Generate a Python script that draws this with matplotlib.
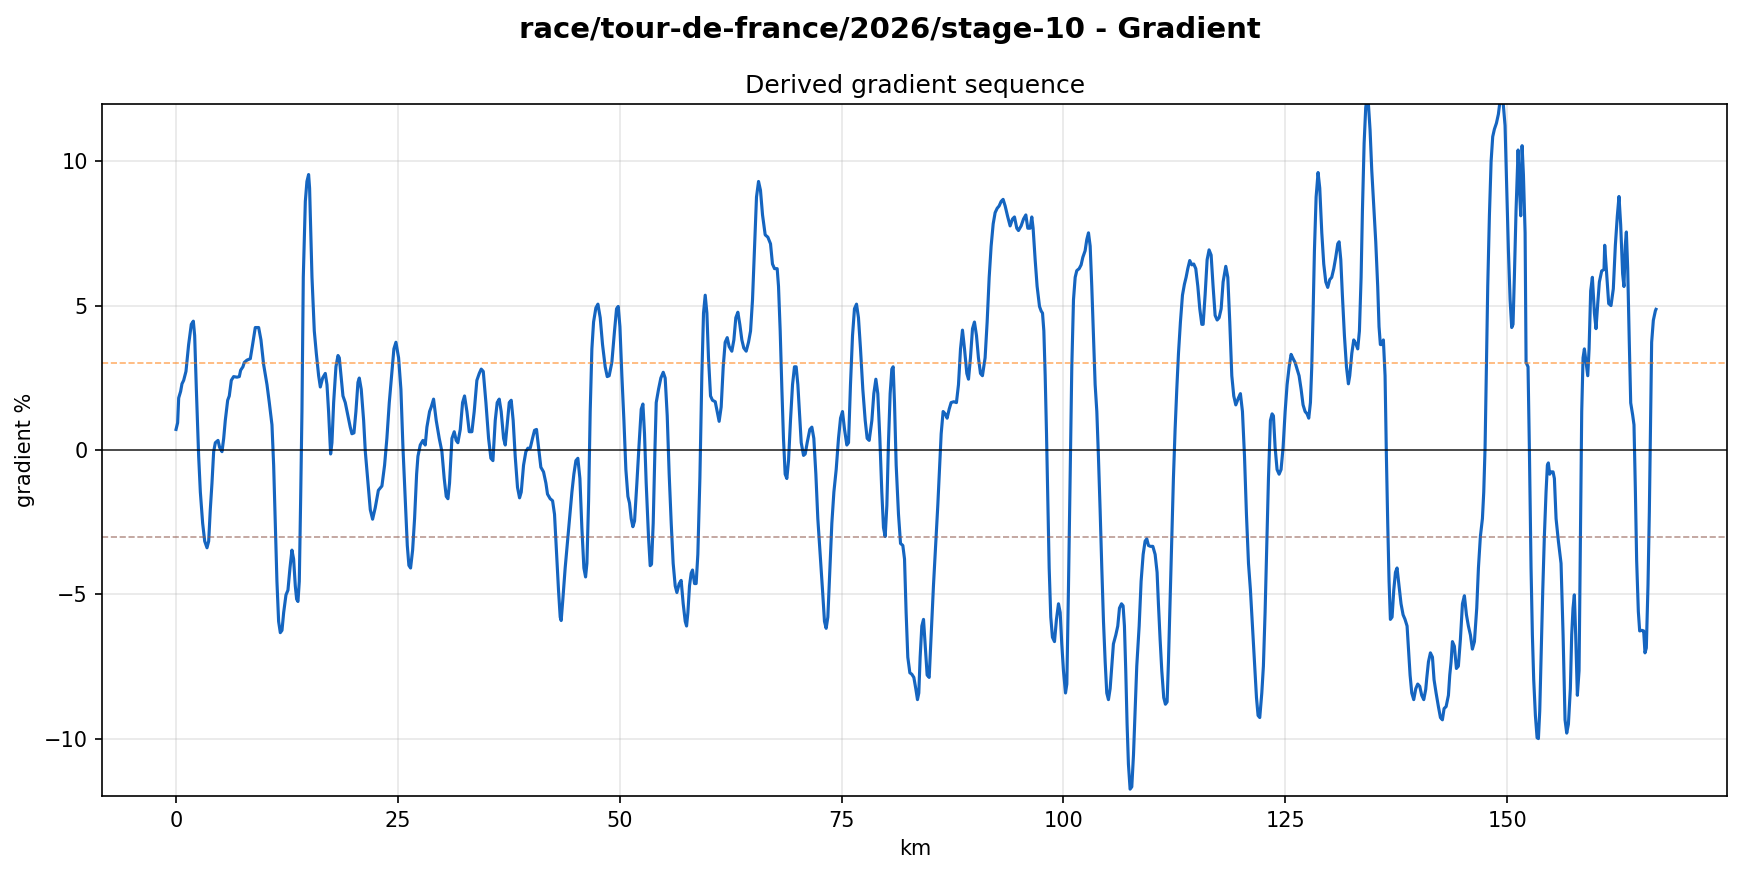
import matplotlib
matplotlib.use("Agg")
from matplotlib import pyplot as plt

km = [
    0.0, 0.18, 0.3, 0.52, 0.67, 0.86, 1.12, 1.42, 1.72, 1.95, 2.1, 2.29, 2.55, 2.74, 3.0, 3.23, 3.49, 3.68, 3.86, 4.05,
    4.24, 4.43, 4.73, 4.91, 5.18, 5.37, 5.55, 5.82, 6.0, 6.23, 6.49, 6.87, 7.13, 7.28, 7.54, 7.69, 7.99, 8.37, 8.63, 8.93,
    9.31, 9.57, 9.87, 10.25, 10.51, 10.81, 11.0, 11.19, 11.37, 11.56, 11.75, 11.94, 12.13, 12.39, 12.61, 12.84, 13.06, 13.25, 13.44, 13.59,
    13.74, 13.89, 14.04, 14.19, 14.34, 14.57, 14.75, 14.94, 15.05, 15.32, 15.58, 15.81, 16.07, 16.26, 16.52, 16.82, 17.01, 17.19, 17.42, 17.57,
    17.76, 18.02, 18.25, 18.4, 18.59, 18.81, 19.07, 19.37, 19.63, 19.82, 20.05, 20.27, 20.5, 20.65, 20.87, 21.14, 21.33, 21.63, 21.89, 22.15,
    22.45, 22.8, 23.2, 23.5, 23.76, 24.03, 24.33, 24.55, 24.78, 25.08, 25.34, 25.57, 25.83, 26.06, 26.24, 26.43, 26.66, 26.88, 27.11, 27.26,
    27.52, 27.82, 28.08, 28.27, 28.57, 28.76, 29.02, 29.32, 29.66, 29.96, 30.22, 30.45, 30.64, 30.82, 31.09, 31.35, 31.57, 31.76, 32.03, 32.29,
    32.51, 32.78, 33.04, 33.34, 33.6, 33.9, 34.17, 34.39, 34.62, 34.92, 35.22, 35.48, 35.71, 35.97, 36.19, 36.42, 36.64, 36.91, 37.1, 37.32,
    37.55, 37.77, 37.99, 38.22, 38.48, 38.71, 38.9, 39.16, 39.42, 39.65, 39.91, 40.17, 40.4, 40.62, 40.85, 41.11, 41.41, 41.68, 41.86, 42.16,
    42.43, 42.65, 42.92, 43.1, 43.29, 43.4, 43.59, 43.85, 44.12, 44.38, 44.61, 44.83, 45.06, 45.28, 45.51, 45.73, 45.96, 46.15, 46.3, 46.49,
    46.67, 46.86, 47.05, 47.31, 47.54, 47.8, 48.06, 48.36, 48.59, 48.81, 49.11, 49.41, 49.64, 49.83, 50.02, 50.24, 50.47, 50.69, 50.92, 51.1,
    51.29, 51.48, 51.67, 51.93, 52.19, 52.42, 52.61, 52.79, 52.98, 53.24, 53.43, 53.58, 53.77, 53.96, 54.11, 54.37, 54.63, 54.9, 55.12, 55.35,
    55.57, 55.8, 56.02, 56.25, 56.44, 56.7, 56.92, 57.15, 57.38, 57.53, 57.68, 57.86, 58.05, 58.2, 58.43, 58.61, 58.8, 59.03, 59.25, 59.44,
    59.63, 59.82, 60.0, 60.23, 60.45, 60.76, 60.98, 61.2, 61.43, 61.66, 61.88, 62.11, 62.33, 62.63, 62.86, 63.08, 63.31, 63.53, 63.76, 63.98,
    64.25, 64.51, 64.74, 64.96, 65.19, 65.41, 65.64, 65.86, 66.09, 66.39, 66.69, 66.99, 67.21, 67.44, 67.74, 67.89, 68.08, 68.27, 68.45, 68.64,
    68.83, 69.02, 69.24, 69.47, 69.69, 69.88, 70.07, 70.22, 70.45, 70.71, 70.9, 71.12, 71.42, 71.65, 71.87, 72.1, 72.32, 72.59, 72.85, 73.07,
    73.26, 73.45, 73.68, 73.9, 74.13, 74.39, 74.65, 74.88, 75.1, 75.33, 75.59, 75.78, 76.0, 76.23, 76.45, 76.68, 76.9, 77.13, 77.39, 77.66,
    77.88, 78.11, 78.41, 78.63, 78.86, 79.08, 79.31, 79.53, 79.72, 79.91, 80.1, 80.28, 80.47, 80.66, 80.81, 80.96, 81.15, 81.41, 81.64, 81.9,
    82.09, 82.27, 82.46, 82.69, 82.91, 83.14, 83.36, 83.55, 83.7, 83.85, 84.04, 84.23, 84.41, 84.64, 84.87, 85.09, 85.35, 85.62, 85.84, 86.03,
    86.22, 86.44, 86.67, 86.89, 87.12, 87.34, 87.64, 87.94, 88.17, 88.4, 88.62, 88.85, 89.11, 89.3, 89.52, 89.75, 89.97, 90.2, 90.42, 90.65,
    90.87, 91.17, 91.4, 91.63, 91.85, 92.08, 92.3, 92.53, 92.75, 92.98, 93.2, 93.43, 93.7, 93.99, 94.26, 94.48, 94.74, 94.93, 95.23, 95.5,
    95.76, 95.98, 96.25, 96.43, 96.58, 96.81, 97.03, 97.3, 97.49, 97.64, 97.79, 97.94, 98.09, 98.24, 98.39, 98.57, 98.76, 98.99, 99.21, 99.44,
    99.63, 99.81, 100.0, 100.23, 100.38, 100.56, 100.75, 100.94, 101.13, 101.32, 101.5, 101.77, 101.99, 102.18, 102.44, 102.63, 102.82, 103.01, 103.19, 103.38,
    103.57, 103.76, 103.94, 104.13, 104.32, 104.51, 104.7, 104.88, 105.07, 105.26, 105.45, 105.63, 105.9, 106.12, 106.31, 106.54, 106.72, 106.87, 107.02, 107.17,
    107.32, 107.51, 107.7, 107.89, 108.07, 108.26, 108.53, 108.75, 108.98, 109.2, 109.39, 109.58, 109.8, 110.07, 110.33, 110.55, 110.7, 110.89, 111.08, 111.3,
    111.49, 111.68, 111.83, 112.02, 112.21, 112.39, 112.58, 112.77, 112.96, 113.18, 113.41, 113.63, 113.82, 114.01, 114.23, 114.46, 114.68, 114.91, 115.14, 115.36,
    115.59, 115.74, 115.96, 116.19, 116.41, 116.64, 116.86, 117.09, 117.32, 117.54, 117.77, 117.99, 118.29, 118.52, 118.74, 118.97, 119.19, 119.42, 119.72, 119.94,
    120.17, 120.4, 120.62, 120.85, 121.07, 121.3, 121.52, 121.75, 121.93, 122.12, 122.35, 122.53, 122.72, 122.91, 123.1, 123.32, 123.51, 123.66, 123.85, 124.07,
    124.3, 124.52, 124.75, 124.98, 125.2, 125.43, 125.65, 125.88, 126.1, 126.33, 126.55, 126.78, 127.0, 127.23, 127.45, 127.64, 127.83, 127.98, 128.13, 128.28,
    128.47, 128.69, 128.88, 129.11, 129.33, 129.56, 129.78, 130.01, 130.23, 130.46, 130.68, 130.91, 131.06, 131.25, 131.43, 131.66, 131.89, 132.11, 132.26, 132.49,
    132.71, 132.94, 133.16, 133.35, 133.54, 133.69, 133.88, 134.06, 134.21, 134.36, 134.55, 134.74, 134.96, 135.19, 135.41, 135.56, 135.71, 135.86, 136.05, 136.24,
    136.39, 136.54, 136.69, 136.84, 137.03, 137.22, 137.41, 137.59, 137.82, 138.04, 138.27, 138.49, 138.72, 138.87, 139.06, 139.25, 139.47, 139.7, 139.92, 140.15,
    140.37, 140.6, 140.82, 140.94, 141.13, 141.35, 141.58, 141.76, 141.99, 142.25, 142.48, 142.7, 142.89, 143.12, 143.38, 143.53, 143.68, 143.83, 144.05, 144.28,
    144.5, 144.73, 144.96, 145.18, 145.41, 145.63, 145.86, 146.08, 146.31, 146.57, 146.76, 146.98, 147.21, 147.36, 147.51, 147.66, 147.81, 148.0, 148.19, 148.37,
    148.56, 148.79, 149.01, 149.2, 149.5, 149.76, 149.95, 150.14, 150.33, 150.51, 150.66, 150.81, 151.0, 151.23, 151.38, 151.53, 151.68, 151.83, 152.02, 152.13,
    152.35, 152.5, 152.69, 152.84, 152.99, 153.18, 153.37, 153.52, 153.67, 153.82, 154.01, 154.19, 154.38, 154.53, 154.64, 154.79, 154.94, 155.17, 155.32, 155.51,
    155.77, 156.07, 156.3, 156.52, 156.71, 156.9, 157.12, 157.27, 157.42, 157.57, 157.72, 157.91, 158.1, 158.25, 158.4, 158.55, 158.7, 158.89, 159.08, 159.23,
    159.41, 159.6, 159.83, 160.01, 160.2, 160.39, 160.65, 160.91, 160.99, 161.21, 161.44, 161.7, 161.96, 162.19, 162.41, 162.6, 162.79, 163.01, 163.16, 163.31,
    163.43, 163.58, 163.76, 163.92, 164.14, 164.29, 164.44, 164.59, 164.78, 164.93, 165.19, 165.38, 165.53, 165.68, 165.87, 166.02, 166.17, 166.28, 166.47, 166.7,
    166.77,
]

gradiente = [
    0.71, 0.94, 1.8, 2.03, 2.29, 2.41, 2.72, 3.65, 4.35, 4.46, 3.96, 2.1, -0.22, -1.46, -2.54, -3.16, -3.39, -3.16, -2.07, -1.15,
    -0.06, 0.25, 0.33, 0.09, -0.06, 0.40, 1.02, 1.72, 1.87, 2.41, 2.54, 2.52, 2.54, 2.76, 2.88, 3.03, 3.11, 3.16, 3.65, 4.24,
    4.24, 3.81, 2.96, 2.26, 1.64, 0.87, -0.53, -2.54, -4.55, -5.94, -6.33, -6.25, -5.63, -5.02, -4.86, -4.09, -3.47, -3.78, -4.71, -5.17,
    -5.25, -4.55, -1.76, 1.33, 5.98, 8.61, 9.30, 9.54, 9.07, 5.98, 4.12, 3.34, 2.57, 2.18, 2.49, 2.65, 2.26, 1.33, -0.14, 0.25,
    1.64, 2.88, 3.27, 3.19, 2.57, 1.87, 1.64, 1.18, 0.79, 0.56, 0.59, 1.33, 2.34, 2.49, 2.1, 1.02, -0.06, -1.15, -2.07, -2.4,
    -2.0, -1.4, -1.25, -0.53, 0.40, 1.64, 2.72, 3.5, 3.73, 3.19, 2.1, 0.09, -1.76, -3.31, -4.0, -4.09, -3.47, -2.38, -0.84, -0.22,
    0.17, 0.33, 0.17, 0.79, 1.33, 1.49, 1.76, 1.02, 0.40, -0.06, -0.99, -1.61, -1.69, -1.15, 0.40, 0.63, 0.33, 0.25, 0.71, 1.64,
    1.87, 1.33, 0.63, 0.63, 1.33, 2.41, 2.65, 2.8, 2.72, 1.64, 0.40, -0.29, -0.37, 1.02, 1.64, 1.76, 1.33, 0.40, 0.17, 0.87,
    1.64, 1.72, 1.02, -0.22, -1.30, -1.66, -1.46, -0.53, -0.06, 0.06, 0.06, 0.40, 0.68, 0.71, 0.09, -0.60, -0.76, -1.15, -1.53, -1.69,
    -1.76, -2.23, -3.78, -4.86, -5.79, -5.91, -5.17, -4.09, -3.16, -2.23, -1.46, -0.84, -0.37, -0.29, -0.99, -2.69, -4.09, -4.4, -3.93, -1.76,
    1.33, 3.5, 4.43, 4.92, 5.05, 4.58, 3.65, 2.88, 2.54, 2.57, 3.03, 4.12, 4.89, 4.97, 4.27, 2.57, 1.02, -0.68, -1.61, -1.84,
    -2.38, -2.66, -2.46, -1.15, 0.25, 1.41, 1.59, 0.56, -1.15, -3.0, -4.01, -3.96, -2.54, -0.06, 1.64, 2.1, 2.49, 2.69, 2.49, 1.18,
    -0.84, -2.54, -3.93, -4.71, -4.94, -4.63, -4.52, -5.33, -5.94, -6.1, -5.63, -4.71, -4.27, -4.16, -4.63, -4.63, -3.62, -0.99, 2.57, 4.74,
    5.36, 4.74, 3.19, 1.87, 1.72, 1.67, 1.33, 0.99, 1.49, 2.88, 3.73, 3.89, 3.58, 3.42, 3.81, 4.58, 4.77, 4.35, 3.81, 3.53,
    3.42, 3.73, 4.12, 5.2, 7.06, 8.76, 9.3, 8.99, 8.14, 7.45, 7.37, 7.14, 6.44, 6.28, 6.28, 5.67, 4.12, 2.1, 0.40, -0.84,
    -0.99, -0.37, 1.02, 2.26, 2.88, 2.88, 2.26, 1.49, 0.25, -0.19, -0.14, 0.25, 0.71, 0.79, 0.40, -0.84, -2.38, -3.62, -4.86, -5.94,
    -6.18, -5.79, -4.09, -2.54, -1.46, -0.68, 0.40, 1.1, 1.33, 0.71, 0.17, 0.25, 2.26, 3.96, 4.89, 5.05, 4.58, 3.5, 2.1, 1.02,
    0.40, 0.33, 1.02, 1.95, 2.45, 1.95, 0.40, -1.46, -2.69, -3.0, -1.92, 0.25, 1.95, 2.8, 2.88, 1.64, -0.53, -2.23, -3.24, -3.31,
    -3.78, -5.63, -7.18, -7.72, -7.77, -7.88, -8.27, -8.65, -8.42, -7.18, -6.1, -5.87, -6.72, -7.8, -7.88, -6.41, -4.71, -3.16, -1.92, -0.68,
    0.56, 1.33, 1.25, 1.1, 1.41, 1.64, 1.67, 1.64, 2.26, 3.5, 4.15, 3.5, 2.65, 2.45, 3.19, 4.2, 4.43, 3.96, 3.19, 2.65,
    2.57, 3.19, 4.43, 5.98, 7.06, 7.83, 8.22, 8.37, 8.45, 8.61, 8.68, 8.45, 8.1, 7.76, 8.0, 8.07, 7.68, 7.6, 7.76, 8.0,
    8.14, 7.68, 7.68, 8.07, 7.68, 6.59, 5.67, 4.97, 4.81, 4.74, 4.12, 2.57, 0.56, -1.76, -4.09, -5.79, -6.49, -6.64, -5.87, -5.33,
    -5.63, -6.72, -7.65, -8.42, -8.11, -4.86, -0.99, 2.88, 5.2, 5.98, 6.21, 6.28, 6.41, 6.67, 6.9, 7.29, 7.52, 7.06, 5.67, 3.96,
    2.26, 1.33, -0.22, -2.07, -4.09, -5.94, -7.34, -8.42, -8.65, -8.27, -7.49, -6.72, -6.41, -6.1, -5.48, -5.33, -5.4, -6.1, -7.65, -9.5,
    -10.88, -11.75, -11.67, -10.57, -9.04, -7.49, -6.1, -4.55, -3.62, -3.16, -3.08, -3.31, -3.34, -3.34, -3.62, -4.24, -5.33, -6.56, -7.65, -8.58,
    -8.81, -8.73, -7.34, -5.17, -3.0, -0.99, 0.71, 2.1, 3.34, 4.43, 5.36, 5.74, 5.98, 6.28, 6.56, 6.41, 6.44, 6.28, 5.67, 4.89,
    4.35, 4.35, 5.36, 6.59, 6.93, 6.75, 5.67, 4.66, 4.5, 4.58, 4.89, 5.82, 6.36, 5.98, 4.43, 2.57, 1.87, 1.56, 1.8, 1.95,
    1.33, -0.22, -2.23, -3.93, -4.86, -6.1, -7.34, -8.58, -9.2, -9.27, -8.42, -7.49, -5.63, -3.31, -0.99, 1.02, 1.25, 1.18, 0.09, -0.68,
    -0.84, -0.68, 0.09, 1.33, 2.26, 2.88, 3.31, 3.16, 3.03, 2.8, 2.57, 2.1, 1.56, 1.33, 1.25, 1.1, 1.64, 2.88, 4.74, 6.9,
    8.76, 9.61, 9.07, 7.52, 6.44, 5.82, 5.63, 5.9, 5.98, 6.28, 6.67, 7.14, 7.21, 6.59, 5.36, 3.96, 2.88, 2.29, 2.57, 3.34,
    3.81, 3.68, 3.5, 4.12, 5.98, 8.3, 10.62, 11.86, 12.2, 12.0, 11.08, 9.69, 8.45, 7.21, 5.67, 4.27, 3.65, 3.65, 3.81, 2.57,
    -0.22, -2.54, -4.55, -5.87, -5.79, -4.86, -4.24, -4.09, -4.71, -5.33, -5.71, -5.87, -6.1, -6.87, -7.8, -8.42, -8.65, -8.27, -8.11, -8.19,
    -8.5, -8.65, -8.3, -7.9, -7.34, -7.03, -7.18, -7.96, -8.42, -8.89, -9.27, -9.35, -8.96, -8.89, -8.5, -7.8, -7.34, -6.64, -6.8, -7.57,
    -7.49, -6.56, -5.33, -5.05, -5.71, -6.1, -6.41, -6.9, -6.64, -5.48, -4.09, -3.0, -2.38, -1.46, 0.09, 2.88, 5.67, 8.14, 10.0, 10.85,
    11.11, 11.32, 11.63, 12.1, 12.2, 11.24, 9.07, 6.9, 5.2, 4.24, 4.35, 5.98, 8.3, 10.39, 9.07, 8.11, 10.54, 9.54, 7.52, 3.03,
    2.88, 0.09, -4.09, -6.41, -7.96, -9.2, -9.97, -10.0, -9.04, -7.18, -4.86, -3.0, -1.46, -0.53, -0.45, -0.84, -0.76, -0.76, -0.99, -2.38,
    -3.16, -3.93, -6.41, -9.35, -9.81, -9.5, -8.27, -6.41, -5.48, -5.02, -6.41, -8.5, -7.65, -3.31, 1.33, 3.19, 3.5, 3.03, 2.57, 3.5,
    5.51, 5.98, 4.74, 4.2, 5.05, 5.82, 6.2, 6.25, 7.09, 6.1, 5.07, 5.0, 5.58, 7.09, 8.1, 8.78, 7.8, 6.1, 5.66, 7.09,
    7.55, 6.3, 3.73, 1.63, 1.21, 0.87, -1.31, -3.83, -5.6, -6.27, -6.25, -6.27, -7.03, -6.86, -4.67, -2.15, 1.21, 3.73, 4.49, 4.82,
    4.87,
]

titulo = "race/tour-de-france/2026/stage-10 - Gradient"
subtitulo = "Derived gradient sequence"
umbral = 3.0


def grafica_gradiente():
    fig = plt.figure(figsize=(1744 / 150, 875 / 150), dpi=150)
    ax = fig.add_axes([0.0587, 0.0899, 0.9317, 0.7918])

    ax.plot(km, gradiente, color="#1565c0", linewidth=1.5)
    ax.axhline(0, color="black", linewidth=0.8, alpha=0.8)
    ax.axhline(umbral, color="tab:orange", linestyle="--", linewidth=0.8, alpha=0.6)
    ax.axhline(-umbral, color="tab:brown", linestyle="--", linewidth=0.8, alpha=0.6)

    ax.set_xlim(-8.3, 174.8)
    ax.set_ylim(-12, 12)
    ax.grid(True, alpha=0.3)
    ax.set_title(subtitulo, fontsize=12, pad=5)
    ax.set_xlabel("km")
    ax.set_ylabel("gradient %")
    fig.suptitle(titulo, fontsize=14, fontweight="bold", x=0.51, y=0.9655, va="center")

    fig.savefig("out.png", dpi=150)


def main():
    grafica_gradiente()


if __name__ == "__main__":
    main()
